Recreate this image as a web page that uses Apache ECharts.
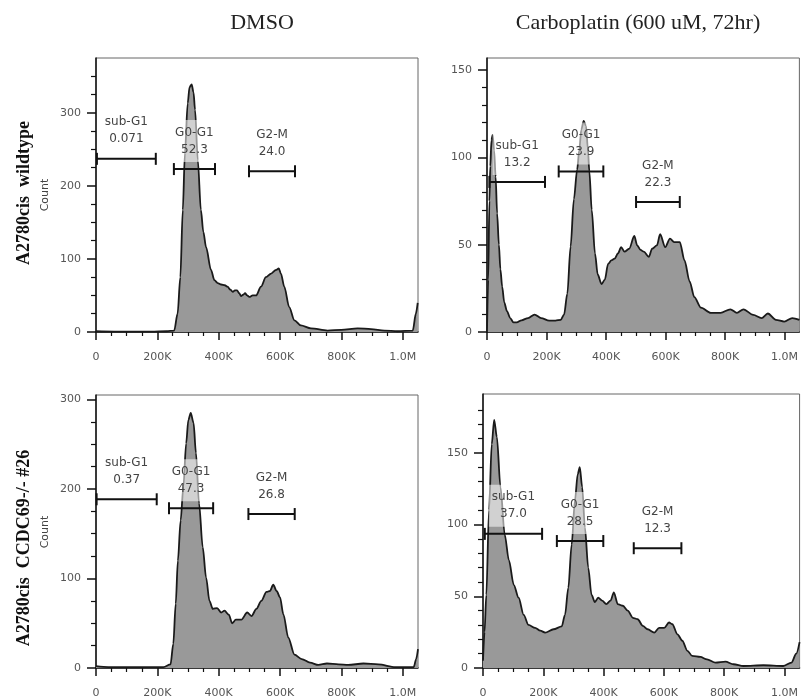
<!DOCTYPE html>
<html><head><meta charset="utf-8">
<script src="https://cdn.jsdelivr.net/npm/echarts@6/dist/echarts.min.js"></script>
<style>html,body{margin:0;padding:0;background:#fff}#c{width:801px;height:700px}</style>
</head><body><div id="c"></div>
<script>
// ---------- text ----------
const colTitles = ['DMSO', 'Carboplatin (600 uM, 72hr)'];
const rowTitles = ['A2780cis  wildtype', 'A2780cis  CCDC69-/- #26'];
const yName = 'Count';
const gateNames = ['sub-G1', 'G0-G1', 'G2-M'];

// ---------- ticks (x in thousands) ----------
const xTickValues = [0, 200, 400, 600, 800, 1000];
const xTickLabels = ['0', '200K', '400K', '600K', '800K', '1.0M'];
const xMinorTicks = [50, 100, 150, 250, 300, 350, 450, 500, 550, 650, 700, 750, 850, 900, 950];

// ---------- panel 1: DMSO, wildtype ----------
const p1X = [0,60,120,180,230,255,266,275,283,290,299,305,312,318,323,332,342,350,359,375,386,397,408,420,429,438,446,453,460,467,473,480,486,493,500,511,522,538,554,571,587,596,603,614,630,647,668,701,755,800,853,897,940,984,1033,1043,1049];
const p1Y = [1,0.5,0.5,0.5,1,2,25,75,167,245,313,335,339,328,304,235,167,137,116,85,71,67,65,64,62,58,55,57,57,53,49,51,53,50,48,50,50,62,75,80,85,87,80,62,34,16,9,5,2,3,5,4,2,1,2,25,40];
const p1Gates = [[3,195,237],[254,388,223],[499,649,220]];
const p1Pct = ['0.071', '52.3', '24.0'];
const p1YTicks = [0, 100, 200, 300];
const p1YMinor = [25,50,75,125,150,175,225,250,275,325,350];

// ---------- panel 2: Carboplatin, wildtype ----------
const p2X = [0,4,8,11,15,19,24,29,34,40,45,51,58,67,78,89,100,116,138,160,182,209,230,248,259,270,281,292,303,310,317,325,333,339,344,352,363,372,385,396,407,418,429,440,451,462,478,495,505,516,527,544,555,571,582,599,615,629,648,664,681,697,719,752,785,818,840,862,895,923,944,971,999,1026,1050];
const p2Y = [0,30,75,95,110,113,104,89,68,50,36,26,17,12,8,5.5,5.5,6.7,8,10,8,6.5,6.5,7,10,22,49,76,93,104,116,121,118,105,92,70,45,33,27.5,30,39,41,42,45,48.6,46,47.7,55,49.6,47,46,43,47.7,49.6,56,48.6,53.5,51.5,51.5,41,29,20,14,11,11,13,11,13,9.8,8,10.6,7,6,8,7];
const p2Gates = [[8,195,86],[241,391,92],[501,648,74.5]];
const p2Pct = ['13.2', '23.9', '22.3'];
const p2YTicks = [0, 50, 100, 150];
const p2YMinor = [10,20,30,40,60,70,80,90,110,120,130,140];

// ---------- panel 3: DMSO, CCDC69-/- ----------
const p3X = [0,40,100,160,220,243,252,260,267,276,285,294,301,309,318,326,336,348,359,370,381,395,408,419,433,444,456,474,493,507,523,539,556,567,578,589,600,611,627,647,671,698,725,753,791,822,872,921,976,1036,1044,1050];
const p3Y = [2,1,1,1,1,4,27,72,120,165,203,251,277,285,274,240,184,135,101,75,66,67,62,64,59.5,50,54,54,62,58,66,75,85,86,93,86,79,60,34,15,10,6,3.4,5,4,3.4,5,4,1,1,10,21];
const p3Gates = [[2,198,188.5],[238,382,178.5],[497,648,172]];
const p3Pct = ['0.37', '47.3', '26.8'];
const p3YTicks = [0, 100, 200, 300];
const p3YMinor = [25,50,75,125,150,175,225,250,275];

// ---------- panel 4: Carboplatin, CCDC69-/- ----------
const p4X = [0,5,11,20,29,37,46,58,72,86,102,118,135,151,173,190,206,234,261,272,283,294,305,314,321,329,338,349,360,371,382,395,409,423,434,447,464,480,497,513,530,546,568,584,601,617,628,645,661,678,694,721,743,771,804,831,864,930,996,1023,1039,1050];
const p4Y = [5,25,51,110,156,173,161,126,93,75,58,49,37,30,28,26,24.7,27,29,37,56,86,117,135,140,126,98,70,51,46,49,47,44.5,47,52.7,44.5,43.4,40,35,34,29.4,27,24.7,28,28,31.7,30.5,23.5,19,12,8.4,7.7,6,3.7,4.4,2.6,1.4,1.9,1.4,3.7,10,18];
const p4Gates = [[6,196,93.5],[245,399,88.5],[500,658,83.5]];
const p4Pct = ['37.0', '28.5', '12.3'];
const p4YTicks = [0, 50, 100, 150];
const p4YMinor = [10,20,30,40,60,70,80,90,110,120,130,140,160,170,180];

// ---------- layout ----------
const panels = [
  {x:p1X, y:p1Y, gates:p1Gates, pct:p1Pct, yt:p1YTicks, ym:p1YMinor, ymax:375, grid:{left:96, top:58, width:322, height:274}},
  {x:p2X, y:p2Y, gates:p2Gates, pct:p2Pct, yt:p2YTicks, ym:p2YMinor, ymax:157, grid:{left:487, top:58, width:320, height:274}},
  {x:p3X, y:p3Y, gates:p3Gates, pct:p3Pct, yt:p3YTicks, ym:p3YMinor, ymax:305, grid:{left:96, top:395, width:322, height:273}},
  {x:p4X, y:p4Y, gates:p4Gates, pct:p4Pct, yt:p4YTicks, ym:p4YMinor, ymax:191, grid:{left:483, top:394, width:320, height:274}}
];

const INK = '#111';
const LBL = {color:'#555', fontFamily:'DejaVu Sans', fontSize:11};
const grid = [], xAxis = [], yAxis = [], series = [];

panels.forEach((p, i) => {
  grid.push(Object.assign({show:true, borderColor:'#666', borderWidth:1, containLabel:false}, p.grid));
  // major x
  xAxis.push({type:'value', gridIndex:i, min:0, max:1050, position:'bottom',
    axisLine:{show:true, onZero:false, lineStyle:{color:INK, width:1.5}},
    axisTick:{show:true, length:8, lineStyle:{color:INK, width:1.5}, customValues:xTickValues},
    axisLabel:Object.assign({customValues:xTickValues, margin:20,
      formatter:v => { const k = xTickValues.indexOf(v); return k >= 0 ? xTickLabels[k] : ''; }}, LBL),
    splitLine:{show:false}});
  // minor x
  xAxis.push({type:'value', gridIndex:i, min:0, max:1050, position:'bottom',
    axisLine:{show:false},
    axisTick:{show:true, length:4, lineStyle:{color:INK, width:1.2}, customValues:xMinorTicks},
    axisLabel:{show:false}, splitLine:{show:false}});
  // major y
  yAxis.push({type:'value', gridIndex:i, min:0, max:p.ymax, position:'left',
    axisLine:{show:true, onZero:false, lineStyle:{color:INK, width:1.5}},
    axisTick:{show:true, length:9, lineStyle:{color:INK, width:1.5}, customValues:p.yt},
    axisLabel:Object.assign({customValues:p.yt, margin:15}, LBL),
    splitLine:{show:false}});
  // minor y
  yAxis.push({type:'value', gridIndex:i, min:0, max:p.ymax, position:'left',
    axisLine:{show:false},
    axisTick:{show:true, length:5, lineStyle:{color:INK, width:1.2}, customValues:p.ym},
    axisLabel:{show:false}, splitLine:{show:false}});

  series.push({type:'line', xAxisIndex:2*i, yAxisIndex:2*i,
    data:p.x.map((xv, k) => [xv, p.y[k]]),
    showSymbol:false, symbol:'none', smooth:0.3, smoothMonotone:'x',
    lineStyle:{color:'#1a1a1a', width:1.8},
    areaStyle:{color:'#999999', opacity:1}, z:2, silent:true});

  series.push({type:'custom', xAxisIndex:2*i, yAxisIndex:2*i, z:5, silent:true,
    encode:{x:[0,1], y:2},
    data:p.gates,
    renderItem:(params, api) => {
      const a = api.coord([api.value(0), api.value(2)]);
      const b = api.coord([api.value(1), api.value(2)]);
      const st = {stroke:INK, lineWidth:2};
      const k = params.dataIndex;
      return {type:'group', children:[
        {type:'line', shape:{x1:a[0], y1:a[1], x2:b[0], y2:b[1]}, style:st},
        {type:'line', shape:{x1:a[0], y1:a[1]-6, x2:a[0], y2:a[1]+6}, style:st},
        {type:'line', shape:{x1:b[0], y1:b[1]-6, x2:b[0], y2:b[1]+6}, style:st},
        {type:'text', x:(a[0]+b[0])/2, y:a[1]-7, z2:10,
          style:{text:gateNames[k] + '\n' + p.pct[k], align:'center', verticalAlign:'bottom',
            font:'12px "DejaVu Sans"', fill:'#444', lineHeight:17,
            backgroundColor:'rgba(255,255,255,0.55)', padding:[4,3,4,3]}}
      ]};
    }});
});

const graphic = [
  {type:'text', x:262, y:23, style:{text:colTitles[0], font:'22px "Liberation Serif"', fill:'#222', align:'center', verticalAlign:'middle'}},
  {type:'text', x:638, y:23, style:{text:colTitles[1], font:'22px "Liberation Serif"', fill:'#222', align:'center', verticalAlign:'middle'}},
  {type:'text', x:24, y:193, rotation:Math.PI/2, style:{text:rowTitles[0], font:'bold 18px "Liberation Serif"', fill:'#111', align:'center', verticalAlign:'middle'}},
  {type:'text', x:24, y:548, rotation:Math.PI/2, style:{text:rowTitles[1], font:'bold 18px "Liberation Serif"', fill:'#111', align:'center', verticalAlign:'middle'}},
  {type:'text', x:45, y:195, rotation:Math.PI/2, style:{text:yName, font:'11px "DejaVu Sans"', fill:'#444', align:'center', verticalAlign:'middle'}},
  {type:'text', x:45, y:532, rotation:Math.PI/2, style:{text:yName, font:'11px "DejaVu Sans"', fill:'#444', align:'center', verticalAlign:'middle'}}
];

const chart = echarts.init(document.getElementById('c'), null, {renderer:'canvas'});
chart.setOption({animation:false, backgroundColor:'#fff', grid, xAxis, yAxis, series, graphic});
</script></body></html>
